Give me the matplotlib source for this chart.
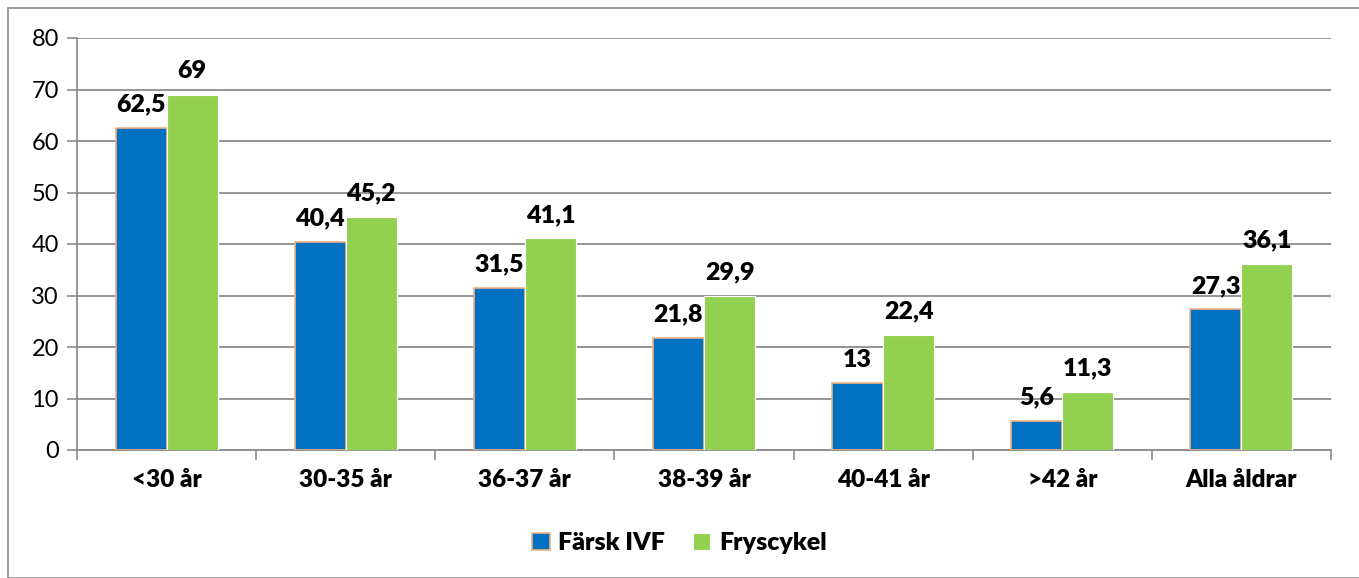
import numpy as np
import matplotlib.pyplot as plt
from matplotlib.patches import Rectangle

categories = ['<30 år', '30-35 år', '36-37 år', '38-39 år', '40-41 år', '>42 år', 'Alla åldrar']
farsk_ivf = [62.5, 40.4, 31.5, 21.8, 13, 5.6, 27.3]
fryscykel = [69, 45.2, 41.1, 29.9, 22.4, 11.3, 36.1]
series_names = ['Färsk IVF', 'Fryscykel']

plt.rcParams['font.family'] = ['Lato', 'DejaVu Sans']

fig = plt.figure(figsize=(13.59, 5.78), dpi=100)
ax = fig.add_axes([77 / 1359, 1 - 450 / 578, 1254 / 1359, 412 / 578])

# outer chart frame
fig.patches.append(Rectangle((8 / 1359, 0), 1360 / 1359, 570 / 578, transform=fig.transFigure,
                             fill=False, edgecolor='#8c8c8c', linewidth=1.2))

x = np.arange(len(categories))
w = 0.285
b1 = ax.bar(x - w / 2, farsk_ivf, w, color='#0070c0', edgecolor='#f4b183', linewidth=1.2, zorder=3)
b2 = ax.bar(x + w / 2, fryscykel, w, color='#92d050', edgecolor='white', linewidth=0.8, zorder=3)

def fmt(v):
    return ('%g' % v).replace('.', ',')

for bars, vals in ((b1, farsk_ivf), (b2, fryscykel)):
    for r, v in zip(bars, vals):
        ax.annotate(fmt(v), (r.get_x() + r.get_width() / 2, v), xytext=(0, 9),
                    textcoords='offset points', ha='center', va='bottom',
                    fontsize=18, fontweight='heavy')

ax.set_xlim(-0.5, len(categories) - 0.5)
ax.set_ylim(0, 80)
ax.set_yticks(range(0, 81, 10))
ax.yaxis.grid(True, color='#8c8c8c', linewidth=1.3, zorder=0)
ax.set_axisbelow(True)

ax.set_xticks(x)
ax.set_xticklabels(categories, fontsize=17.5, fontweight='heavy')
ax.tick_params(axis='x', length=0, pad=14)
ax.set_xticks(np.arange(-0.5, len(categories), 1), minor=True)
ax.tick_params(axis='x', which='minor', length=7, color='#8c8c8c', width=1.2)
ax.tick_params(axis='y', labelsize=17, length=7, color='#8c8c8c', width=1.2, pad=6)

for s in ('top', 'right'):
    ax.spines[s].set_visible(False)
for s in ('left', 'bottom'):
    ax.spines[s].set_color('#8c8c8c')
    ax.spines[s].set_linewidth(1.3)

leg = fig.legend([b1, b2], series_names, loc='center', bbox_to_anchor=(0.5, 1 - 543 / 578), ncol=2,
                 frameon=False, prop={'size': 18, 'weight': 'heavy'}, handlelength=0.7, handleheight=0.7,
                 columnspacing=1.1, handletextpad=0.35)

fig.savefig('out.png', dpi=100)
